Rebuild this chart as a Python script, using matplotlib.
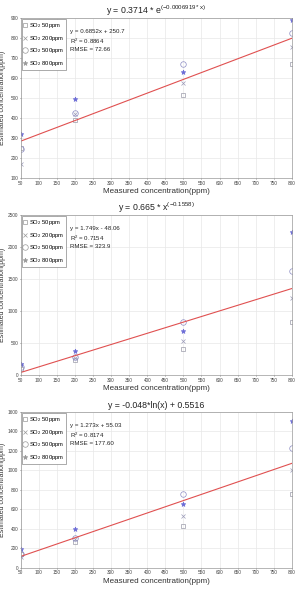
import matplotlib
matplotlib.use("Agg")
import matplotlib.pyplot as plt
import numpy as np

plt.rcParams['font.family'] = ['Liberation Sans', 'DejaVu Sans']
plt.rcParams['mathtext.fontset'] = 'custom'
plt.rcParams['mathtext.rm'] = 'Liberation Sans'
plt.rcParams['mathtext.it'] = 'Liberation Sans'
plt.rcParams['mathtext.default'] = 'regular'

x_vals = [50, 200, 500, 800]
series_labels = ['SO$_2$ 50ppm', 'SO$_2$ 200ppm', 'SO$_2$ 500ppm', 'SO$_2$ 800ppm']

titles = [r'y = 0.3714 * e$^{(-0.0006919*x)}$',
          r'y = 0.665 * x$^{(-0.1558)}$',
          'y = -0.048*ln(x) + 0.5516']
fit_text = ['y = 0.6852x + 250.7\nR$^2$ = 0.8864\nRMSE = 72.66',
            'y = 1.749x - 48.06\nR$^2$ = 0.7154\nRMSE = 323.9',
            'y = 1.273x + 55.03\nR$^2$ = 0.8174\nRMSE = 177.60']
slopes = [0.6852, 1.749, 1.273]
intercepts = [250.7, -48.06, 55.03]

# panel values: [square(50ppm), x(200ppm), circle(500ppm), star(800ppm)] at each x
p1 = [[250, 390, 515, 670],
      [170, 420, 575, 755],
      [245, 425, 670, 825],
      [320, 495, 630, 890]]
p2 = [[100, 240, 410, 830],
      [150, 270, 530, 1210],
      [120, 280, 830, 1630],
      [165, 380, 690, 2240]]
p3 = [[140, 265, 430, 760],
      [110, 295, 535, 1000],
      [140, 305, 755, 1230],
      [195, 405, 660, 1510]]
panels = [p1, p2, p3]
ylims = [(100, 900), (0, 2500), (0, 1600)]
ysteps = [100, 500, 200]

markers = ['s', 'x', 'o', '*']
msizes = [3.2, 3.0, 4.0, 3.5]
colors = ['#9a9aa8', '#9a9ab8', '#8c8cc4', '#6a6ad6']

fig = plt.figure(figsize=(2.96, 5.90), dpi=100)
fig.patch.set_facecolor('white')
rects = [[0.07, 0.698, 0.916, 0.2715],
         [0.07, 0.3644, 0.916, 0.2712],
         [0.07, 0.0373, 0.916, 0.2644]]

for i, (rect, data) in enumerate(zip(rects, panels)):
    ax = fig.add_axes(rect)
    ax.set_xlim(50, 800)
    ax.set_ylim(*ylims[i])
    ax.set_xticks(np.arange(50, 801, 50))
    ax.set_yticks(np.arange(ylims[i][0], ylims[i][1] + 1, ysteps[i]))
    ax.grid(True, color='#e8e8e8', linewidth=0.5)
    ax.set_axisbelow(True)
    ax.tick_params(labelsize=3.4, length=1.0, width=0.4, pad=0.8, colors='#444444')
    for s in ax.spines.values():
        s.set_linewidth(0.5)
        s.set_color('#999999')
    for j in range(4):
        ax.plot(x_vals, data[j], linestyle='none', marker=markers[j],
                markersize=msizes[j], markerfacecolor='none' if markers[j] in 'so' else colors[j],
                markeredgecolor=colors[j], markeredgewidth=0.5, label=series_labels[j])
    xx = np.array([50, 800])
    ax.plot(xx, slopes[i] * xx + intercepts[i], color='#e05050', linewidth=0.8)
    leg = ax.legend(loc='upper left', fontsize=4.2, handlelength=0.5, handletextpad=0.3,
                    borderpad=0.4, labelspacing=0.6, fancybox=False, framealpha=1,
                    edgecolor='#888888', borderaxespad=0.15)
    leg.get_frame().set_linewidth(0.5)
    for h in leg.legend_handles:
        h.set_markeredgecolor('#999999')
        if h.get_marker() in ('*', 'x'):
            h.set_markerfacecolor('#999999')
    ax.text(0.182, 0.93, fit_text[i], transform=ax.transAxes, fontsize=4.4,
            va='top', ha='left', linespacing=1.35, color='#222222')
    ax.set_title(titles[i], fontsize=6.3, pad=3, color='#222222')
    ax.set_xlabel('Measured concentration(ppm)', fontsize=5.8, labelpad=2, color='#333333')
    ax.set_ylabel('Estimated concentration(ppm)', fontsize=5.0, color='#333333')
    ax.yaxis.set_label_coords(-0.056, 0.5)

fig.savefig('out.png', dpi=100)
